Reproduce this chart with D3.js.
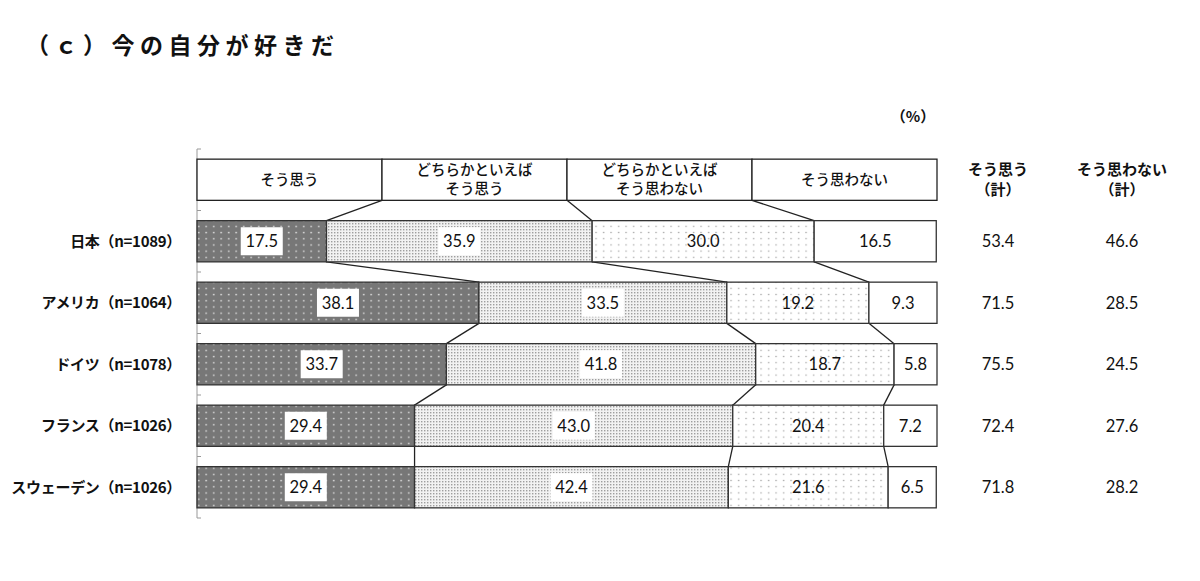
<!DOCTYPE html>
<html><head><meta charset="utf-8">
<script src="https://cdn.jsdelivr.net/npm/d3@7"></script>
<style>body{margin:0;background:#fff;}svg{display:block;}</style>
</head><body>
<svg id="c" width="1200" height="581"></svg>
<script>
const title = "（ｃ）今の自分が好きだ";
const headerRow = "header";
const categories = ["日本（n=1089）", "アメリカ（n=1064）", "ドイツ（n=1078）", "フランス（n=1026）", "スウェーデン（n=1026）"];
const seriesNames = ["そう思う", "どちらかといえば\nそう思う", "どちらかといえば\nそう思わない", "そう思わない"];
const headerValues = [25, 25, 25, 25];
const s1 = [17.5, 38.1, 33.7, 29.4, 29.4];
const s2 = [35.9, 33.5, 41.8, 43.0, 42.4];
const s3 = [30.0, 19.2, 18.7, 20.4, 21.6];
const s4 = [16.5, 9.3, 5.8, 7.2, 6.5];
const agreeTotal = [53.4, 71.5, 75.5, 72.4, 71.8];
const disagreeTotal = [46.6, 28.5, 24.5, 27.6, 28.2];
const totalHeaders = ["そう思う\n（計）", "そう思わない\n（計）"];
const unitLabel = "（%）";

const svg = d3.select("#c");
const FONT = "Lato, 'Noto Sans CJK JP', sans-serif";
const JFONT = "'Noto Sans CJK JP', sans-serif";

// patterns
const defs = svg.append("defs");
const p1 = defs.append("pattern").attr("id","p1").attr("patternUnits","userSpaceOnUse").attr("width",7.5).attr("height",6.2);
p1.append("rect").attr("width",7.5).attr("height",6.2).attr("fill","#777");
p1.append("rect").attr("x",3).attr("y",2.5).attr("width",1.4).attr("height",1.4).attr("fill","#e8e8e8");
const p2 = defs.append("pattern").attr("id","p2").attr("patternUnits","userSpaceOnUse").attr("width",3).attr("height",3);
p2.append("rect").attr("width",3).attr("height",3).attr("fill","#f2f2f2");
p2.append("rect").attr("x",1).attr("y",1).attr("width",1.4).attr("height",1.4).attr("fill","#9e9e9e");
const p3 = defs.append("pattern").attr("id","p3").attr("patternUnits","userSpaceOnUse").attr("width",7.5).attr("height",6.2);
p3.append("rect").attr("width",7.5).attr("height",6.2).attr("fill","#ffffff");
p3.append("rect").attr("x",3).attr("y",2.5).attr("width",1.2).attr("height",1.2).attr("fill","#999");
const fills = ["url(#p1)","url(#p2)","url(#p3)","#ffffff"];

const x = d3.scaleLinear().domain([0,100]).range([197,937]).clamp(true);
const rows = [headerRow].concat(categories);
const y = d3.scaleBand().domain(rows).range([149,518]).paddingInner(0.33).paddingOuter(0.165);

// title
svg.append("text").attr("x",26).attr("y",54).attr("font-family",JFONT).attr("font-size",23).attr("font-weight",700)
  .attr("letter-spacing","5.5px").attr("fill","#111").text(title);
svg.append("text").attr("x",913).attr("y",122).attr("text-anchor","middle").attr("font-family",JFONT)
  .attr("font-size",15).attr("font-weight",700).attr("fill","#111").text(unitLabel);

// axis line with ticks
const axisG = svg.append("g");
axisG.append("line").attr("x1",x(0)).attr("x2",x(0)).attr("y1",y.range()[0]).attr("y2",y.range()[1]).attr("stroke","#999").attr("stroke-width",1);
const bounds = rows.map(r => y(r) - (y.step()-y.bandwidth())/2);
bounds.push(y.range()[1]);
axisG.selectAll("line.t").data(bounds).join("line").attr("class","t")
  .attr("x1",x(0)).attr("x2",x(0)+4).attr("y1",d=>d).attr("y2",d=>d).attr("stroke","#999").attr("stroke-width",1);

// data rows
const data = categories.map((c,i)=>({cat:c, vals:[s1[i],s2[i],s3[i],s4[i]]}));
const allRows = [{cat:headerRow, vals:headerValues}].concat(data);
allRows.forEach(r => { let acc=0; r.segs = r.vals.map((v,j)=>{const s={x0:acc,x1:acc+v,v:v,j:j}; acc+=v; return s;}); });

// connectors
const conn = [];
for (let i=0;i<allRows.length-1;i++){
  for (let j=0;j<3;j++){
    conn.push({x0:allRows[i].segs[j].x1, y0:y(allRows[i].cat)+y.bandwidth(), x1:allRows[i+1].segs[j].x1, y1:y(allRows[i+1].cat)});
  }
}
svg.append("g").selectAll("line").data(conn).join("line")
  .attr("x1",d=>x(d.x0)).attr("y1",d=>d.y0).attr("x2",d=>x(d.x1)).attr("y2",d=>d.y1)
  .attr("stroke","#222").attr("stroke-width",1.3);

// header row
const hg = svg.append("g");
const hr = allRows[0];
hg.selectAll("rect").data(hr.segs).join("rect")
  .attr("x",d=>x(d.x0)).attr("width",d=>x(d.x1)-x(d.x0)).attr("y",y(headerRow)).attr("height",y.bandwidth())
  .attr("fill","#fff").attr("stroke","#222").attr("stroke-width",1.3);
hr.segs.forEach((d,k)=>{
  const lines = seriesNames[k].split("\n");
  const cy = y(headerRow)+y.bandwidth()/2;
  const t = hg.append("text").attr("x",(x(d.x0)+x(d.x1))/2).attr("text-anchor","middle")
    .attr("font-family",JFONT).attr("font-size",14.5).attr("font-weight",500).attr("fill","#111");
  lines.forEach((ln,li)=>{
    t.append("tspan").attr("x",(x(d.x0)+x(d.x1))/2).attr("y",cy + 5 + (li-(lines.length-1)/2)*19).text(ln);
  });
});

// bars
const bg = svg.append("g");
data.forEach(r=>{
  const g = bg.append("g");
  g.selectAll("rect").data(r.segs).join("rect")
    .attr("x",d=>x(d.x0)).attr("width",d=>x(d.x1)-x(d.x0)).attr("y",y(r.cat)).attr("height",y.bandwidth())
    .attr("fill",d=>fills[d.j]).attr("stroke","#333").attr("stroke-width",1.3);
  r.segs.forEach(d=>{
    const cx=(x(d.x0)+x(d.x1))/2, cy=y(r.cat)+y.bandwidth()/2;
    const label = d.v.toFixed(1);
    if (d.j<2){
      const w = label.length*8.5+8;
      g.append("rect").attr("x",cx-w/2).attr("y",cy-14).attr("width",w).attr("height",28).attr("fill","#fff");
    }
    g.append("text").attr("x",cx).attr("y",cy+6).attr("text-anchor","middle")
      .attr("font-family",FONT).attr("font-size",16.5).attr("fill","#111").text(label);
  });
});

// category labels
svg.append("g").selectAll("text").data(categories).join("text")
  .attr("x",181).attr("y",d=>y(d)+y.bandwidth()/2+5.5).attr("text-anchor","end")
  .attr("font-family",JFONT).attr("font-size",15).attr("font-weight",700).attr("letter-spacing","-0.3px").attr("fill","#111").text(d=>d);

// totals
const colX = [998, 1122];
totalHeaders.forEach((h,k)=>{
  h.split("\n").forEach((ln,li)=>{
    svg.append("text").attr("text-anchor","middle").attr("font-family",JFONT).attr("font-size",15).attr("font-weight",700).attr("fill","#111")
      .attr("x",colX[k]).attr("y",175+li*20).text(ln);
  });
});
[agreeTotal, disagreeTotal].forEach((arr,k)=>{
  svg.append("g").selectAll("text").data(arr).join("text")
    .attr("x",colX[k]).attr("y",(d,i)=>y(categories[i])+y.bandwidth()/2+6).attr("text-anchor","middle")
    .attr("font-family",FONT).attr("font-size",16.5).attr("fill","#111").text(d=>d.toFixed(1));
});
</script>
</body></html>
